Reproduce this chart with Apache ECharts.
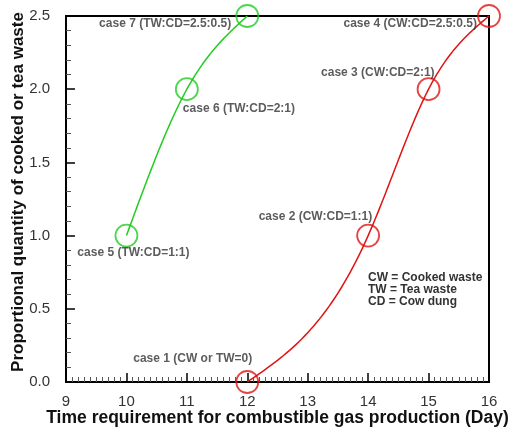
<!DOCTYPE html>
<html>
<head>
<meta charset="utf-8">
<script src="https://cdn.jsdelivr.net/npm/echarts@6/dist/echarts.min.js"></script>
<style>
  html, body { margin: 0; padding: 0; background: #fff; }
  #chart { width: 516px; height: 430px; }
</style>
</head>
<body>
<div id="chart"></div>
<script>
// tea waste cases (green) and cooked waste cases (red)
const teaDays = [10, 11, 12];
const teaQty = [1.0, 2.0, 2.5];
const teaNames = ["case 5 (TW:CD=1:1)", "case 6 (TW:CD=2:1)", "case 7 (TW:CD=2.5:0.5)"];

const cookedDays = [12, 14, 15, 16];
const cookedQty = [0.0, 1.0, 2.0, 2.5];
const cookedNames = ["case 1 (CW or TW=0)", "case 2 (CW:CD=1:1)", "case 3 (CW:CD=2:1)", "case 4 (CW:CD=2.5:0.5)"];

const noteLines = ["CW = Cooked waste", "TW = Tea waste", "CD = Cow dung"];

const GREEN = "#22cc22";
const RED = "#e01414";
const FONT = "Liberation Sans, Arial, sans-serif";

const chart = echarts.init(document.getElementById("chart"));

// where each case label sits relative to its circle
const teaLabelPos = [
  { align: "center", offset: [7, 17] },
  { align: "left", offset: [-4, 19] },
  { align: "right", offset: [-16, 8] },
];
const cookedLabelPos = [
  { align: "right", offset: [5, -23] },
  { align: "right", offset: [4, -19] },
  { align: "right", offset: [6, -17] },
  { align: "right", offset: [-12, 8] },
];

// natural cubic spline through the pixel points, sampled for drawing
function splinePath(pts, steps) {
  const n = pts.length;
  const x = pts.map((p) => p[0]);
  const a = pts.map((p) => p[1]);
  const h = [];
  for (let i = 0; i < n - 1; i++) h.push(x[i + 1] - x[i]);
  const alpha = new Array(n).fill(0);
  for (let i = 1; i < n - 1; i++) {
    alpha[i] = (3 / h[i]) * (a[i + 1] - a[i]) - (3 / h[i - 1]) * (a[i] - a[i - 1]);
  }
  const l = new Array(n).fill(1), mu = new Array(n).fill(0), z = new Array(n).fill(0);
  for (let i = 1; i < n - 1; i++) {
    l[i] = 2 * (x[i + 1] - x[i - 1]) - h[i - 1] * mu[i - 1];
    mu[i] = h[i] / l[i];
    z[i] = (alpha[i] - h[i - 1] * z[i - 1]) / l[i];
  }
  const c = new Array(n).fill(0), b = [], d = [];
  for (let j = n - 2; j >= 0; j--) {
    c[j] = z[j] - mu[j] * c[j + 1];
    b[j] = (a[j + 1] - a[j]) / h[j] - (h[j] * (c[j + 1] + 2 * c[j])) / 3;
    d[j] = (c[j + 1] - c[j]) / (3 * h[j]);
  }
  const out = [];
  for (let j = 0; j < n - 1; j++) {
    for (let s = 0; s <= steps; s++) {
      if (j > 0 && s === 0) continue;
      const dx = (h[j] * s) / steps;
      out.push([x[j] + dx, a[j] + b[j] * dx + c[j] * dx * dx + d[j] * dx * dx * dx]);
    }
  }
  return out;
}

function curveSeries(days, qty, color) {
  return {
    type: "custom",
    clip: false,
    silent: true,
    z: 1,
    data: days.map((d, i) => [d, qty[i]]),
    encode: { x: 0, y: 1 },
    renderItem: (params, api) => {
      if (params.dataIndex !== 0) return null;
      const pts = days.map((d, i) => api.coord([d, qty[i]]));
      return {
        type: "polyline",
        shape: { points: splinePath(pts, 40) },
        style: { stroke: color, lineWidth: 1.5, fill: null },
      };
    },
  };
}

function circleSeries(days, qty, names, pos, color) {
  return {
    type: "scatter",
    clip: false,
    z: 2,
    symbol: "circle",
    symbolSize: 22,
    itemStyle: { color: "rgba(0,0,0,0)", borderColor: color, borderWidth: 1.8 },
    emphasis: { disabled: true },
    data: days.map((d, i) => ({
      value: [d, qty[i]],
      label: {
        show: true,
        position: "inside",
        verticalAlign: "middle",
        align: pos[i].align,
        offset: pos[i].offset,
        formatter: names[i],
        fontFamily: FONT,
        fontWeight: "bold",
        fontSize: 12,
        color: "#333",
      },
    })),
  };
}

const axisText = { fontFamily: FONT, fontSize: 15, color: "#333" };

const option = {
  backgroundColor: "#fff",
  animation: false,
  grid: {
    left: 66,
    right: 27,
    top: 16,
    bottom: 48,
    outerBoundsMode: "none",
    show: true,
    borderColor: "#000",
    borderWidth: 2,
  },
  xAxis: {
    type: "value",
    min: 9,
    max: 16,
    interval: 1,
    name: "Time requirement for combustible gas production (Day)",
    nameLocation: "middle",
    nameGap: 27,
    nameMoveOverlap: false,
    nameTextStyle: { fontFamily: FONT, fontWeight: "bold", fontSize: 17.5, color: "#111" },
    axisLine: { lineStyle: { color: "#000", width: 2 } },
    axisTick: { inside: true, length: 9, lineStyle: { color: "#000", width: 1.5 } },
    minorTick: { show: true, splitNumber: 10, length: 5, lineStyle: { color: "#555" } },
    splitLine: { show: false },
    axisLabel: { ...axisText, margin: 12 },
  },
  yAxis: {
    type: "value",
    min: 0,
    max: 2.5,
    interval: 0.5,
    axisLine: { lineStyle: { color: "#000", width: 2 } },
    axisTick: { inside: true, length: 9, lineStyle: { color: "#000", width: 1.5 } },
    minorTick: { show: true, splitNumber: 5, length: 5, lineStyle: { color: "#555" } },
    splitLine: { show: false },
    axisLabel: { ...axisText, margin: 16, formatter: (v) => v.toFixed(1) },
  },
  graphic: [
    {
      type: "text",
      x: 18,
      y: 192,
      rotation: Math.PI / 2,
      style: {
        text: "Proportional quantity of cooked or tea waste",
        font: "bold 17px " + FONT,
        fill: "#111",
        align: "center",
        verticalAlign: "middle",
      },
    },
    {
      type: "text",
      left: 368,
      top: 272,
      style: {
        text: noteLines.join("\n"),
        font: "bold 12px " + FONT,
        fill: "#333",
        lineHeight: 12,
      },
    },
  ],
  series: [
    curveSeries(teaDays, teaQty, GREEN),
    curveSeries(cookedDays, cookedQty, RED),
    circleSeries(teaDays, teaQty, teaNames, teaLabelPos, GREEN),
    circleSeries(cookedDays, cookedQty, cookedNames, cookedLabelPos, RED),
  ],
};

chart.setOption(option);
</script>
</body>
</html>
